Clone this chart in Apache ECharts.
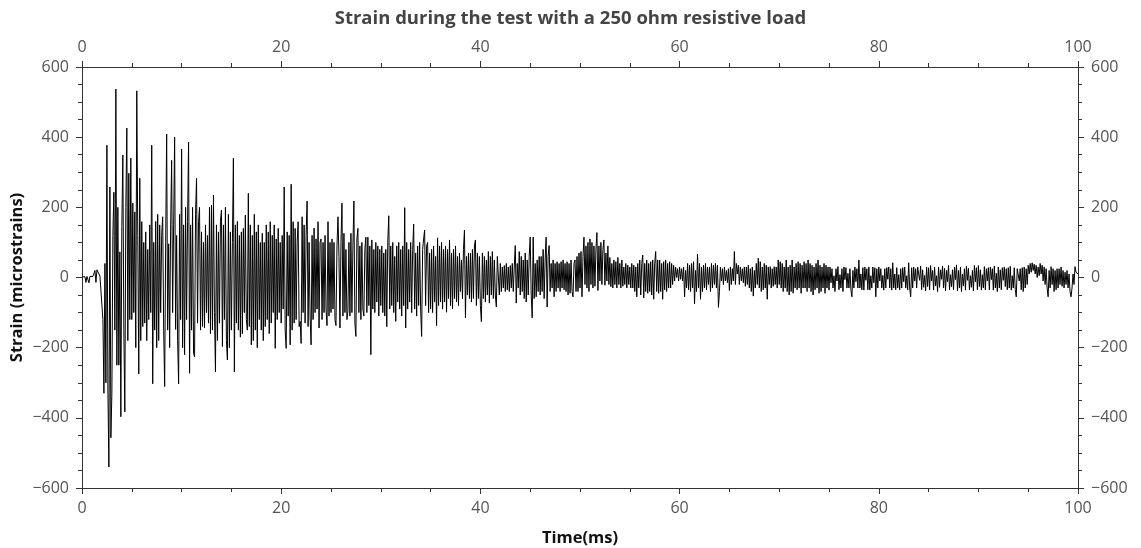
<!DOCTYPE html>
<html>
<head>
<meta charset="utf-8">
<title>Strain</title>
<script src="https://cdn.jsdelivr.net/npm/echarts@6/dist/echarts.min.js"></script>
<style>
html,body{margin:0;padding:0;background:#fff;}
#chart{width:1141px;height:548px;}
</style>
</head>
<body>
<div id="chart"></div>
<script>
// sample step in ms (one row below = 1 ms)
var dt = 0.1;
var xRange = [0, 100];
var yRange = [-600, 600];

var strain = [
 2, 3, 1, 2, -14, 3, 2, -15, 3, 2,
 4, 3, 2, 20, -14, 22, 18, 20, 4, 3,
 3, -120, -330, 40, -300, 377, -320, -540, 258, -457,
 -330, 120, 243, -150, 537, -250, 200, -250, 73, -397,
 145, 349, -150, -383, 200, 426, -180, 297, -120, 340,
 -120, 212, -100, 187, -200, 532, 120, -275, 283, -180,
 159, -140, 100, -130, 130, -180, 80, -120, 150, -100,
 377, -303, 100, -150, 160, -200, 180, -180, 150, -100,
 120, 173, -150, -311, 100, 409, -150, 96, -200, 150,
 334, -100, 150, 400, -148, 120, -180, -303, 180, -120,
 366, -200, 150, -220, 200, -120, 160, 386, -273, 150,
 -150, 200, -216, -226, 180, 283, -130, 160, 200, -150,
 130, -140, 100, -144, 150, -100, 120, -130, 200, -160,
 206, -150, 235, -100, -269, 150, -180, 130, -130, 160,
 192, -197, 150, -120, 200, -180, -235, 180, -200, 130,
 -150, 100, 340, -269, 150, -130, 160, -150, 120, -170,
 130, -160, 140, -100, 178, -120, -150, 240, -140, 150,
 -192, 120, -180, 180, -150, 130, -200, 150, -120, 100,
 -150, 126, -180, 100, -140, 150, -120, 130, -160, 159,
 -130, 120, -100, 150, -202, 110, -120, 140, -100, 100,
 -130, 120, -90, 258, -150, -202, 130, -110, 120, -192,
 266, -150, 159, -130, 140, -120, 100, 159, -140, -125,
 -188, 173, -100, 150, -130, 120, 218, -140, 100, -110,
 -192, 120, -120, 141, -100, 110, -90, 159, -144, 100,
 110, -120, 100, -100, 120, -90, -137, 159, -110, 100,
 -100, 110, -90, 100, -120, -137, 90, 173, 60, -144,
 100, 212, -110, 126, -100, 80, -120, -95, 100, -110,
 126, -100, 90, 218, -130, -168, 110, 140, -100, 90,
 -120, 100, -90, -110, 80, 115, -100, 115, -80, 90,
 -220, 107, -90, 80, -100, 100, -70, 90, -110, 80,
 -80, 90, -100, 70, -110, 80, -140, 100, 176, -90,
 90, -80, 100, -100, 60, -125, 90, -70, 100, -90,
 80, -110, 90, -80, 199, -144, 100, -90, 80, -70,
 100, -100, 80, 152, -90, 70, -110, 90, -80, 100,
 -90, -168, 80, 110, 135, -80, 90, 100, -100, 70,
 -90, 80, -100, 90, -70, 60, -137, 113, -80, 90,
 -70, 100, -90, 80, -70, 90, -99, 80, -60, 107,
 -80, 70, -90, 80, -60, 90, -70, 60, -80, 70,
 -40, 50, -60, 80, 135, -115, 60, -50, 70, -60,
 69, -70, 80, -60, 90, 107, -80, 70, -60, 60,
 -80, -126, 70, -60, 60, -70, 50, -50, 74, -73,
 60, -50, 74, -60, 50, -50, -84, 60, 64, -50,
 40, -40, 30, -30, 34, -40, 40, -35, 30, -40,
 34, -30, 40, -40, 30, 91, -73, 40, -30, 74,
 -50, 60, -40, 50, -60, 70, -70, 50, -50, 60,
 115, -50, -115, 115, -60, 40, -55, 50, -40, 60,
 -50, 60, -40, 80, -60, 50, 115, -84, 60, 91,
 -40, 40, -30, 50, -55, 40, -40, 45, -30, 40,
 -40, 45, -30, 50, -35, 40, -40, 45, -50, 40,
 -45, 50, -40, -55, 40, 50, -40, 60, -40, 70,
 -30, 74, -55, 60, 115, -20, 90, -30, 100, -40,
 110, -20, 100, -30, 90, -25, 80, 128, -37, 90,
 -10, 100, -20, 80, 107, -22, 70, -10, 90, -20,
 57, -26, 40, -30, 50, -20, 45, -30, 57, -20,
 40, -30, 50, -25, 30, -20, 40, -30, 35, -20,
 30, -30, 40, -30, 35, -40, 30, -55, 40, -30,
 50, -50, 40, 64, -58, 40, -40, 50, -45, 40,
 -40, 45, -50, 50, -62, 40, 74, -40, 50, -45,
 50, -40, 40, -62, 45, -35, 50, -40, 40, -30,
 45, -30, 40, -20, 35, -10, 30, 0, 25, -10,
 30, -5, 25, -10, 30, -55, 20, -30, 40, -35,
 35, -40, 40, -30, 45, -75, 20, -40, 67, -30,
 40, -62, 30, -40, 35, -30, 40, -35, 30, -20,
 30, -40, 40, -30, 35, -20, 40, -30, 35, -85,
 -40, 30, -10, 25, -20, 30, -10, 20, -15, 25,
 -37, 30, -20, 25, -10, 74, -20, 40, 10, 35,
 -20, 30, -10, 25, -15, 30, -25, 30, -20, 35,
 -30, 25, -40, 30, -53, 20, -30, 40, -20, 55,
 -30, 45, -40, 30, -35, 40, -30, 35, -62, 30,
 -20, 31, -30, 25, -25, 31, -20, 30, -30, 50,
 -20, 45, -30, 40, -40, 30, -30, 50, -40, 30,
 -50, 35, -40, 50, -45, 30, -30, 40, -35, 45,
 -30, 40, -45, 35, -30, 45, -30, 40, -40, 50,
 -30, 40, -40, 35, -50, 30, -35, 40, -30, 50,
 -45, 35, -40, 30, -30, 40, -45, 35, -30, 30,
 -36, 30, -15, 25, -30, 5, -40, 25, -10, 31,
 -35, 8, -30, 25, -40, 30, -6, 28, -30, 12,
 -30, 25, -35, -55, 20, -30, 30, -12, 25, -30,
 50, -30, 10, -35, 28, -36, 30, -8, 25, -35,
 30, -36, 5, -30, 30, -15, 28, -55, 25, -30,
 30, -10, 25, -30, 6, -36, 25, -30, 28, -5,
 30, -30, 25, -36, 42, -30, 10, -35, 28, -30,
 8, -35, 25, -30, 28, -12, 30, -30, 5, -35,
 42, -30, -55, 28, -30, 30, -10, 25, -30, 30,
 25, -8, 32, -35, 22, -28, 6, -38, 30, -26,
 28, -35, 34, -10, 20, -36, 30, -24, 5, -40,
 30, -28, 22, -5, 33, -30, 26, -38, 20, -12,
 34, -35, 8, -26, 22, -35, 30, -6, 36, -38,
 20, -30, 30, -40, 10, -24, 25, -36, 32, -8,
 26, -35, 5, -28, 20, -38, 34, -12, 28, -35,
 34, -26, 22, -36, 8, -30, 31, -35, 25, -10,
 28, -35, 30, -6, 25, -36, 33, -30, 12, -40,
 30, -30, 22, -35, 28, -8, 30, -26, 25, -35,
 28, -30, 32, -36, 5, -30, 28, -35, -55, 25,
 30, -10, 25, -35, 28, -40, 30, -30, 25, -20,
 35, 10, 40, 15, 42, 20, 38, 10, 35, 0,
 30, 5, 40, 10, 35, -10, 30, -20, 25, -30,
 -55, 20, -30, 31, -20, 25, -40, 20, -35, 25,
 -30, 25, -20, 30, -25, 20, -30, 15, -20, 20,
 -30, 10, -40, -55, -30, 10, -20, 31, 15, 10,
 10
];

var seriesData = [];
for (var i = 0; i < strain.length; i++) {
	seriesData.push([+(i * dt).toFixed(1), strain[i]]);
}

var labelColor = '#555';
var fontFamily = "'Open Sans', 'DejaVu Sans', sans-serif";

function minusFmt(v) {
	return String(v).replace('-', '\u2212');
}

function makeXAxis(pos, withName) {
	var ax = {
		type: 'value',
		position: pos,
		min: xRange[0],
		max: xRange[1],
		interval: 20,
		splitLine: { show: false },
		axisLine: { show: true, onZero: false, lineStyle: { color: '#333', width: 1 } },
		axisTick: { show: true, inside: false, length: 6, lineStyle: { color: '#333' } },
		minorTick: { show: true, splitNumber: 4, length: 4, lineStyle: { color: '#333' } },
		axisLabel: { color: labelColor, fontSize: 16, fontFamily: fontFamily, margin: 12 }
	};
	if (withName) {
		ax.name = 'Time(ms)';
		ax.nameLocation = 'middle';
		ax.nameGap = 42;
		ax.nameTextStyle = { color: '#111', fontSize: 16.5, fontWeight: 'bold', fontFamily: fontFamily };
	}
	return ax;
}

function makeYAxis(pos, withName) {
	var ax = {
		type: 'value',
		position: pos,
		min: yRange[0],
		max: yRange[1],
		interval: 200,
		splitLine: { show: false },
		axisLine: { show: true, onZero: false, lineStyle: { color: '#333', width: 1 } },
		axisTick: { show: true, inside: false, length: 6, lineStyle: { color: '#333' } },
		minorTick: { show: true, splitNumber: 4, length: 4, lineStyle: { color: '#333' } },
		axisLabel: { color: labelColor, fontSize: 16, fontFamily: fontFamily, margin: 13, formatter: minusFmt }
	};
	if (withName) {
		ax.name = 'Strain (microstrains)';
		ax.nameLocation = 'middle';
		ax.nameGap = 56;
		ax.nameMoveOverlap = false;
		ax.nameTextStyle = { color: '#111', fontSize: 16.5, fontWeight: 'bold', fontFamily: fontFamily };
	}
	return ax;
}

var option = {
	animation: false,
	backgroundColor: '#fff',
	title: {
		text: 'Strain during the test with a 250 ohm resistive load',
		left: 'center',
		top: 4,
		textStyle: { color: '#444', fontSize: 18.5, fontWeight: 'bold', fontFamily: fontFamily }
	},
	grid: { left: 82, right: 63, top: 67, bottom: 60, containLabel: false, outerBoundsMode: 'none' },
	xAxis: [makeXAxis('bottom', true), makeXAxis('top', false)],
	yAxis: [makeYAxis('left', true), makeYAxis('right', false)],
	series: [{
		type: 'line',
		xAxisIndex: 0,
		yAxisIndex: 0,
		data: seriesData,
		showSymbol: false,
		symbol: 'none',
		lineStyle: { color: '#000', width: 1 },
		silent: true
	}]
};

var myChart = echarts.init(document.getElementById('chart'));
myChart.setOption(option);
</script>
</body>
</html>
